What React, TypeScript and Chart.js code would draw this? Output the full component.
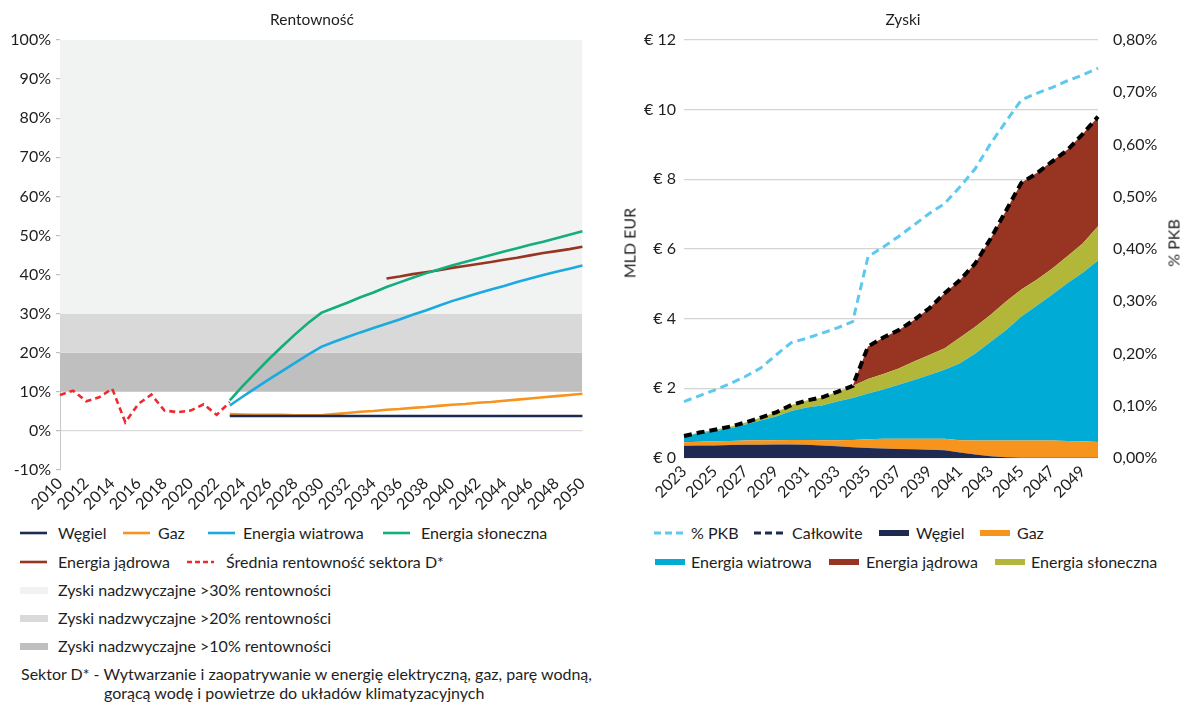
import React, { useEffect, useRef } from "react";
import { Chart, registerables } from "chart.js";
Chart.register(...registerables);

const FONT = "Lato, 'Noto Sans', sans-serif";
const TEXT = "#1e1e1e";
const FS = 16;

// ---------- Left chart: Rentowność ----------
const leftYears = [
  "2010", "2011", "2012", "2013", "2014", "2015", "2016", "2017", "2018", "2019",
  "2020", "2021", "2022", "2023", "2024", "2025", "2026", "2027", "2028", "2029",
  "2030", "2031", "2032", "2033", "2034", "2035", "2036", "2037", "2038", "2039",
  "2040", "2041", "2042", "2043", "2044", "2045", "2046", "2047", "2048", "2049", "2050",
];
// 2010–2023
const sredniaRentownosc = [9.2, 10.3, 7.6, 8.6, 10.8, 2.2, 6.9, 9.3, 5.2, 4.8, 5.2, 6.8, 4.1, 7.4];
// 2023–2050
const wegielRent = [
  3.8, 3.8, 3.8, 3.8, 3.8, 3.8, 3.8, 3.8, 3.8, 3.8, 3.8, 3.8, 3.8, 3.8,
  3.8, 3.8, 3.8, 3.8, 3.8, 3.8, 3.8, 3.8, 3.8, 3.8, 3.8, 3.8, 3.8, 3.8,
];
const gazRent = [
  4.3, 4.2, 4.1, 4.1, 4.1, 4.0, 4.0, 4.0, 4.3, 4.6, 4.9, 5.1, 5.4, 5.6,
  5.9, 6.1, 6.4, 6.7, 6.9, 7.2, 7.4, 7.7, 8.0, 8.3, 8.6, 8.9, 9.2, 9.5,
];
const wiatrowaRent = [
  6.5, 8.8, 11.0, 13.2, 15.3, 17.4, 19.5, 21.5, 22.8, 24.0, 25.2, 26.3, 27.4, 28.5,
  29.7, 30.8, 32.0, 33.2, 34.2, 35.2, 36.2, 37.1, 38.1, 39.0, 39.9, 40.7, 41.5, 42.3,
];
const slonecznaRent = [
  7.8, 11.5, 15.0, 18.4, 21.6, 24.7, 27.6, 30.2, 31.5, 32.8, 34.2, 35.4, 36.8, 38.0,
  39.2, 40.3, 41.3, 42.3, 43.2, 44.1, 45.0, 45.9, 46.7, 47.6, 48.4, 49.3, 50.2, 51.1,
];
// 2035–2050
const jadrowaRent = [39.0, 39.5, 40.1, 40.6, 41.1, 41.7, 42.2, 42.7, 43.2, 43.8, 44.3, 44.9, 45.5, 46.0, 46.5, 47.1];

const bandLabels = [
  "Zyski nadzwyczajne >30% rentowności",
  "Zyski nadzwyczajne >20% rentowności",
  "Zyski nadzwyczajne >10% rentowności",
];
const bandLower = [30, 20, 10];
const bandUpper = [100, 30, 20];

// ---------- Right chart: Zyski ----------
const rightYears = [
  "2023", "2024", "2025", "2026", "2027", "2028", "2029", "2030", "2031", "2032",
  "2033", "2034", "2035", "2036", "2037", "2038", "2039", "2040", "2041", "2042",
  "2043", "2044", "2045", "2046", "2047", "2048", "2049", "2050",
];
const wegielZysk = [
  0.35, 0.36, 0.36, 0.37, 0.38, 0.38, 0.39, 0.39, 0.38, 0.36, 0.34, 0.31, 0.29, 0.27,
  0.26, 0.25, 0.24, 0.22, 0.16, 0.10, 0.05, 0.02, 0.01, 0.01, 0.01, 0.01, 0.01, 0.01,
];
const gazZysk = [
  0.10, 0.11, 0.12, 0.12, 0.12, 0.13, 0.12, 0.13, 0.14, 0.15, 0.17, 0.21, 0.25, 0.28,
  0.29, 0.30, 0.31, 0.33, 0.35, 0.40, 0.45, 0.48, 0.49, 0.49, 0.49, 0.48, 0.47, 0.45,
];
const wiatrowaZysk = [
  0.17, 0.24, 0.29, 0.36, 0.46, 0.57, 0.68, 0.83, 0.93, 1.00, 1.11, 1.20, 1.31, 1.42,
  1.55, 1.69, 1.83, 1.98, 2.21, 2.50, 2.84, 3.17, 3.56, 3.87, 4.19, 4.53, 4.84, 5.21,
];
const slonecznaZysk = [
  0.01, 0.02, 0.04, 0.05, 0.06, 0.08, 0.12, 0.17, 0.20, 0.23, 0.28, 0.35, 0.42, 0.44,
  0.47, 0.53, 0.58, 0.62, 0.74, 0.77, 0.77, 0.82, 0.78, 0.75, 0.74, 0.77, 0.84, 0.98,
];
const jadrowaZysk = [
  0, 0, 0, 0, 0, 0, 0, 0, 0, 0, 0, 0, 0.93, 1.05,
  1.10, 1.19, 1.34, 1.58, 1.65, 1.82, 2.19, 2.61, 3.06, 3.06, 3.09, 3.06, 3.14, 3.15,
];
const calkowite = [
  0.63, 0.73, 0.81, 0.90, 1.02, 1.16, 1.31, 1.52, 1.65, 1.74, 1.90, 2.07, 3.20, 3.46,
  3.67, 3.96, 4.30, 4.73, 5.11, 5.59, 6.30, 7.10, 7.90, 8.17, 8.51, 8.84, 9.30, 9.80,
];
const pkbProc = [
  0.108, 0.119, 0.130, 0.142, 0.156, 0.172, 0.197, 0.221, 0.229, 0.239, 0.249, 0.261, 0.385, 0.404,
  0.424, 0.446, 0.468, 0.487, 0.519, 0.554, 0.602, 0.644, 0.685, 0.698, 0.709, 0.722, 0.733, 0.746,
];

const C = {
  wegiel: "#1f2a52",
  gaz: "#f7941d",
  wiatr: "#1aaae0",
  wiatrArea: "#00acd6",
  slonceLine: "#13ad7e",
  slonceArea: "#b3b739",
  jadro: "#983522",
  red: "#ee2a2e",
  pkb: "#5ec9ef",
  bands: ["#f1f2f2", "#d9d9d9", "#bfbfbf"],
};

function alignTo(startYear: number, vals: number[], years: string[]) {
  return years.map((y) => {
    const i = Number(y) - startYear;
    return i >= 0 && i < vals.length ? vals[i] : null;
  });
}

const tickFont = { family: FONT, size: FS };

function LeftChart() {
  const ref = useRef<HTMLCanvasElement>(null);
  useEffect(() => {
    const lineDs = (label: string, data: any[], color: string, extra: any = {}) => ({
      label,
      data,
      borderColor: color,
      backgroundColor: color,
      borderWidth: 2.6,
      pointRadius: 0,
      fill: false,
      order: 0,
      ...extra,
    });
    const bands = bandLabels.map((label, k) => ({
      label,
      data: leftYears.map(() => bandUpper[k]),
      borderColor: "rgba(0,0,0,0)",
      borderWidth: 0,
      backgroundColor: C.bands[k],
      pointRadius: 0,
      fill: { value: bandLower[k] },
      order: 10,
    }));
    const chart = new Chart(ref.current!, {
      type: "line",
      data: {
        labels: leftYears,
        datasets: [
          ...bands,
          lineDs("Węgiel", alignTo(2023, wegielRent, leftYears), C.wegiel),
          lineDs("Gaz", alignTo(2023, gazRent, leftYears), C.gaz),
          lineDs("Energia wiatrowa", alignTo(2023, wiatrowaRent, leftYears), C.wiatr),
          lineDs("Energia słoneczna", alignTo(2023, slonecznaRent, leftYears), C.slonceLine),
          lineDs("Energia jądrowa", alignTo(2035, jadrowaRent, leftYears), C.jadro),
          lineDs("Średnia rentowność sektora D*", alignTo(2010, sredniaRentownosc, leftYears), C.red, {
            borderDash: [6, 4],
          }),
        ] as any,
      },
      options: {
        animation: false,
        responsive: false,
        devicePixelRatio: 1,
        layout: { padding: { top: 40, right: 17, left: 0, bottom: 0 } },
        plugins: {
          legend: { display: false },
          tooltip: { enabled: false },
          title: { display: false },
          filler: { drawTime: "beforeDatasetsDraw" },
        } as any,
        elements: { point: { radius: 0 }, line: { tension: 0 } },
        scales: {
          x: {
            grid: { display: false, drawTicks: false },
            border: { display: false },
            ticks: {
              autoSkip: false,
              maxRotation: 45,
              minRotation: 45,
              color: TEXT,
              font: tickFont,
              padding: 4,
              callback: (_v: any, i: number) => (i % 2 === 0 ? leftYears[i] : ""),
            },
            afterFit: (s: any) => {
              s.height = 40;
            },
          },
          y: {
            min: -10,
            max: 100,
            ticks: {
              stepSize: 10,
              color: TEXT,
              font: tickFont,
              padding: 5,
              callback: (v: any) => `${v}%`,
            },
            grid: {
              color: (ctx: any) => (ctx.tick && ctx.tick.value === 0 ? "#d9d9d9" : "rgba(0,0,0,0)"),
              tickColor: "#bfbfbf",
              tickLength: 4,
              drawTicks: true,
              lineWidth: 1.2,
            },
            border: { display: true, color: "#c8c8c8", width: 1 },
            afterFit: (s: any) => {
              s.width = 60;
            },
          },
        } as any,
      },
    });
    return () => chart.destroy();
  }, []);
  return (
    <canvas
      ref={ref}
      width={600}
      height={510}
      style={{ position: "absolute", left: 0, top: 0, width: 600, height: 510 }}
    />
  );
}

function RightChart() {
  const ref = useRef<HTMLCanvasElement>(null);
  useEffect(() => {
    const area = (label: string, data: number[], color: string, fill: any) => ({
      label,
      data,
      stack: "s",
      borderColor: "rgba(0,0,0,0)",
      borderWidth: 0,
      backgroundColor: color,
      pointRadius: 0,
      fill,
      order: 2,
      yAxisID: "y",
    });
    const chart = new Chart(ref.current!, {
      type: "line",
      data: {
        labels: rightYears,
        datasets: [
          {
            label: "% PKB",
            data: pkbProc,
            yAxisID: "y1",
            borderColor: C.pkb,
            borderDash: [8, 5],
            borderWidth: 3,
            pointRadius: 0,
            fill: false,
            order: 0,
          },
          {
            label: "Całkowite",
            data: calkowite,
            yAxisID: "y",
            stack: "total",
            borderColor: "#000000",
            borderDash: [8, 5],
            borderWidth: 4,
            pointRadius: 0,
            fill: false,
            order: 1,
          },
          area("Węgiel", wegielZysk, C.wegiel, "origin"),
          area("Gaz", gazZysk, C.gaz, "-1"),
          area("Energia wiatrowa", wiatrowaZysk, C.wiatrArea, "-1"),
          area("Energia słoneczna", slonecznaZysk, C.slonceArea, "-1"),
          area("Energia jądrowa", jadrowaZysk, C.jadro, "-1"),
        ] as any,
      },
      options: {
        animation: false,
        responsive: false,
        devicePixelRatio: 1,
        layout: { padding: { top: 40, right: 0, left: 0, bottom: 0 } },
        plugins: {
          legend: { display: false },
          tooltip: { enabled: false },
          title: { display: false },
          filler: { drawTime: "beforeDatasetsDraw" },
        } as any,
        elements: { point: { radius: 0 }, line: { tension: 0 } },
        scales: {
          x: {
            grid: { display: false, drawTicks: false },
            border: { display: false },
            ticks: {
              autoSkip: false,
              maxRotation: 45,
              minRotation: 45,
              color: TEXT,
              font: tickFont,
              padding: 4,
              callback: (_v: any, i: number) => (i % 2 === 0 ? rightYears[i] : ""),
            },
            afterFit: (s: any) => {
              s.height = 52;
            },
          },
          y: {
            stacked: true,
            min: 0,
            max: 12,
            ticks: {
              stepSize: 2,
              color: TEXT,
              font: tickFont,
              padding: 8,
              callback: (v: any) => `€ ${v}`,
            },
            grid: { color: "#d4d4d4", lineWidth: 1.3, drawTicks: false },
            border: { display: false },
            afterFit: (s: any) => {
              s.width = 84;
            },
          },
          y1: {
            position: "right",
            min: 0,
            max: 0.8,
            ticks: {
              stepSize: 0.1,
              color: TEXT,
              font: tickFont,
              padding: 15,
              callback: (v: any) => `${Number(v).toFixed(2).replace(".", ",")}%`,
            },
            grid: { display: false, drawTicks: false },
            border: { display: false },
            afterFit: (s: any) => {
              s.width = 83;
            },
          },
        } as any,
      },
    });
    return () => chart.destroy();
  }, []);
  return (
    <canvas
      ref={ref}
      width={581}
      height={510}
      style={{ position: "absolute", left: 600, top: 0, width: 581, height: 510 }}
    />
  );
}

function LineSample({ x, y, color, dashed = false, w = 27, thick = 2.6, dash = "5 3" }: any) {
  return (
    <svg style={{ position: "absolute", left: x, top: y - 5 }} width={w} height={10}>
      <line x1={0} y1={5} x2={w} y2={5} stroke={color} strokeWidth={thick} strokeDasharray={dashed ? dash : undefined} />
    </svg>
  );
}
function BoxSample({ x, y, color, w = 28, h = 7 }: any) {
  return <div style={{ position: "absolute", left: x, top: y - h / 2, width: w, height: h, background: color }} />;
}
function Label({ x, y, text }: any) {
  return (
    <div style={{ position: "absolute", left: x, top: y - 11, height: 22, lineHeight: "22px", fontSize: FS, whiteSpace: "nowrap" }}>
      {text}
    </div>
  );
}

export default function App() {
  return (
    <div
      style={{
        position: "fixed",
        left: 0,
        top: 0,
        width: 1181,
        height: 702,
        background: "#fff",
        fontFamily: FONT,
        color: TEXT,
        overflow: "hidden",
      }}
    >
      <LeftChart />
      <RightChart />
      <div style={{ position: "absolute", left: 212, top: 9, width: 200, textAlign: "center", fontSize: 15.5, lineHeight: "20px" }}>
        Rentowność
      </div>
      <div style={{ position: "absolute", left: 803, top: 9, width: 200, textAlign: "center", fontSize: 15.5, lineHeight: "20px" }}>
        Zyski
      </div>
      <div
        style={{
          position: "absolute",
          left: 629,
          top: 243,
          transform: "translate(-50%, -50%) rotate(-90deg)",
          fontSize: FS,
          whiteSpace: "nowrap",
        }}
      >
        MLD EUR
      </div>
      <div
        style={{
          position: "absolute",
          left: 1173,
          top: 243,
          transform: "translate(-50%, -50%) rotate(-90deg)",
          fontSize: FS,
          whiteSpace: "nowrap",
        }}
      >
        % PKB
      </div>

      {/* Left legend */}
      <LineSample x={20} y={533} color={C.wegiel} />
      <Label x={58} y={533} text="Węgiel" />
      <LineSample x={123} y={533} color={C.gaz} />
      <Label x={158} y={533} text="Gaz" />
      <LineSample x={208} y={533} color={C.wiatr} />
      <Label x={243} y={533} text="Energia wiatrowa" />
      <LineSample x={383} y={533} color={C.slonceLine} />
      <Label x={421} y={533} text="Energia słoneczna" />

      <LineSample x={20} y={562} color={C.jadro} />
      <Label x={58} y={562} text="Energia jądrowa" />
      <LineSample x={187} y={562} color={C.red} dashed dash="5 3" />
      <Label x={226} y={562} text="Średnia rentowność sektora D*" />

      <BoxSample x={20} y={590} color={C.bands[0]} />
      <Label x={58} y={590} text={bandLabels[0]} />
      <BoxSample x={20} y={618} color={C.bands[1]} />
      <Label x={58} y={618} text={bandLabels[1]} />
      <BoxSample x={20} y={646} color={C.bands[2]} />
      <Label x={58} y={646} text={bandLabels[2]} />

      <Label x={21} y={674} text="Sektor D* - Wytwarzanie i zaopatrywanie w energię elektryczną, gaz, parę wodną," />
      <Label x={104} y={693} text="gorącą wodę i powietrze do układów klimatyzacyjnych" />

      {/* Right legend */}
      <LineSample x={654} y={533} color={C.pkb} dashed w={30} thick={3} dash="7 4" />
      <Label x={691} y={533} text="% PKB" />
      <LineSample x={754} y={533} color={C.wegiel} dashed w={30} thick={3} dash="7 4" />
      <Label x={792} y={533} text="Całkowite" />
      <BoxSample x={879} y={533} color={C.wegiel} w={30} h={6} />
      <Label x={916} y={533} text="Węgiel" />
      <BoxSample x={980} y={533} color={C.gaz} w={30} h={6} />
      <Label x={1017} y={533} text="Gaz" />

      <BoxSample x={655} y={562} color={C.wiatrArea} w={30} h={6} />
      <Label x={691} y={562} text="Energia wiatrowa" />
      <BoxSample x={829} y={562} color={C.jadro} w={30} h={6} />
      <Label x={866} y={562} text="Energia jądrowa" />
      <BoxSample x={995} y={562} color={C.slonceArea} w={30} h={6} />
      <Label x={1031} y={562} text="Energia słoneczna" />
    </div>
  );
}
